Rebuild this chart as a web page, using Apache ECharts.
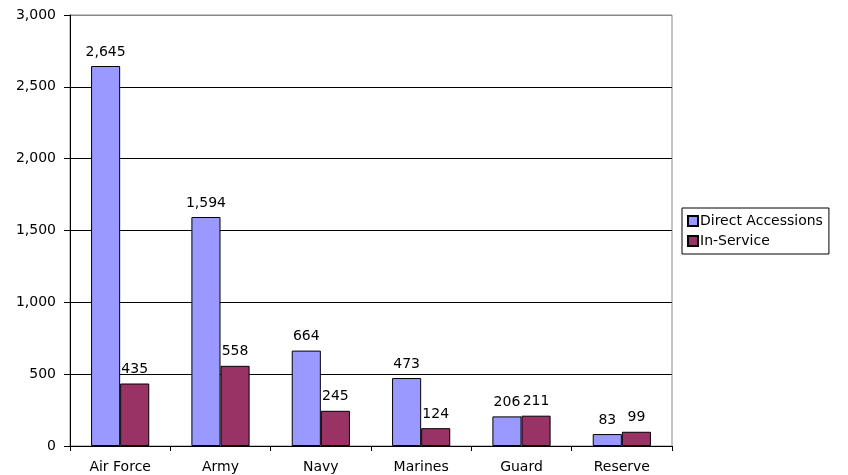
<!DOCTYPE html>
<html>
<head>
<meta charset="utf-8">
<script src="https://cdn.jsdelivr.net/npm/echarts@6/dist/echarts.min.js"></script>
<style>
html, body { margin: 0; padding: 0; background: #fff; }
#chart { width: 848px; height: 475px; }
</style>
</head>
<body>
<div id="chart"></div>
<script>
var categories = ['Air Force', 'Army', 'Navy', 'Marines', 'Guard', 'Reserve']
var directAccessions = [2645, 1594, 664, 473, 206, 83]
var inService = [435, 558, 245, 124, 211, 99]
var yTicks = [0, 500, 1000, 1500, 2000, 2500, 3000]

var font = 'DejaVu Sans, Verdana, sans-serif'

function fmt(v) {
  return String(v).replace(/\B(?=(\d{3})+(?!\d))/g, ',')
}

var label = {
  show: true,
  position: 'top',
  distance: 7,
  color: '#000',
  fontFamily: font,
  fontSize: 14,
  formatter: function(p) { return fmt(p.value) }
}

var option = {
  animation: false,
  grid: {
    left: 70,
    right: 176,
    top: 15,
    bottom: 29,
    show: true,
    borderColor: '#888',
    borderWidth: 1
  },
  legend: {
    orient: 'vertical',
    left: 682,
    top: 208,
    padding: [6, 6, 6, 5],
    itemGap: 6,
    itemWidth: 10,
    itemHeight: 10,
    borderColor: '#000',
    borderWidth: 1,
    icon: 'rect',
    textStyle: {
      fontFamily: font,
      fontSize: 14,
      color: '#000',
      padding: [0, 0, 0, -3]
    },
    data: ['Direct Accessions', 'In-Service']
  },
  xAxis: {
    type: 'category',
    data: categories,
    axisLine: { lineStyle: { color: '#000' } },
    axisTick: { show: true, length: 5, lineStyle: { color: '#000' } },
    axisLabel: {
      color: '#000',
      fontFamily: font,
      fontSize: 14,
      margin: 14
    }
  },
  yAxis: {
    type: 'value',
    min: yTicks[0],
    max: yTicks[yTicks.length - 1],
    interval: 500,
    axisLine: { show: true, lineStyle: { color: '#000' } },
    axisTick: { show: true, length: 6, lineStyle: { color: '#000' } },
    axisLabel: {
      color: '#000',
      fontFamily: font,
      fontSize: 14,
      margin: 14,
      formatter: function(v) { return fmt(v) }
    },
    splitLine: {
      show: true,
      lineStyle: { color: ['#000', '#000', '#000', '#000', '#000', '#000', '#888'], width: 1 }
    }
  },
  series: [
    {
      name: 'Direct Accessions',
      type: 'bar',
      data: directAccessions,
      barGap: '0%',
      barCategoryGap: '42%',
      itemStyle: { color: '#9999FF', borderColor: '#000', borderWidth: 1 },
      label: label
    },
    {
      name: 'In-Service',
      type: 'bar',
      data: inService,
      itemStyle: { color: '#993366', borderColor: '#000', borderWidth: 1 },
      label: label
    }
  ]
}

var chart = echarts.init(document.getElementById('chart'))
chart.setOption(option, true)
window.addEventListener('resize', () => {
  chart.resize()
})
</script>
</body>
</html>
